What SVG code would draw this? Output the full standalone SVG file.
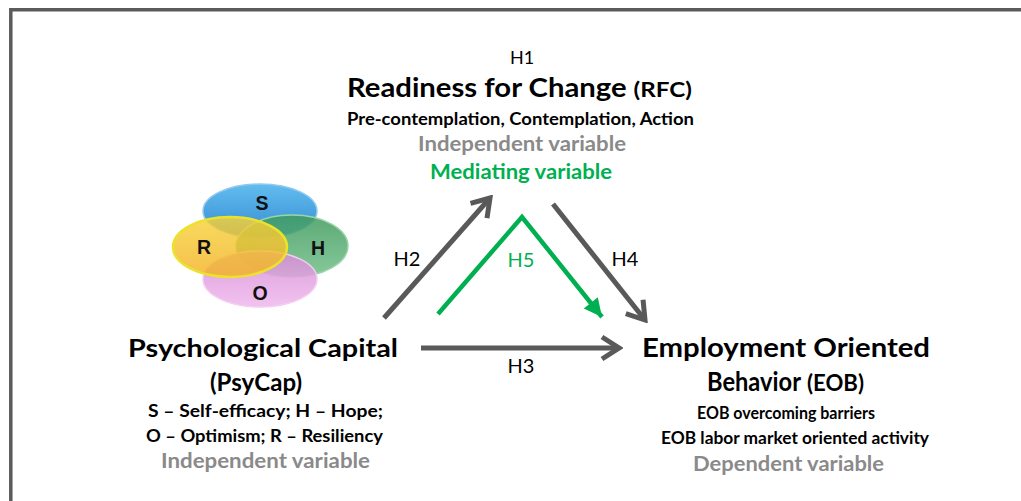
<svg xmlns="http://www.w3.org/2000/svg" width="1021" height="501" viewBox="0 0 1021 501">
  <style>
    text { font-family: Lato, "Open Sans", "Liberation Sans", sans-serif; fill: #000; }
    .h { font-size: 20px; text-anchor: middle; }
    .title { font-weight: 700; }
    .sub { font-weight: 700; font-size: 16.5px; }
    .grey { fill: #8a8a8a; font-weight: 700; font-size: 20px; }
    .green { fill: #00b050; }
    .letter { font-family: "Liberation Sans", Arial, sans-serif; font-size: 19.5px; font-weight: 700; text-anchor: middle; fill: #111; }
    .conn { fill: none; stroke: #595959; stroke-width: 5; }
    .conn-green { fill: none; stroke: #00b050; stroke-width: 4.5; stroke-linejoin: miter; }
  </style>
  <defs>
    <marker id="open-arrow" markerUnits="userSpaceOnUse" viewBox="-22 -14 26 28" refX="0" refY="0" markerWidth="26" markerHeight="28" orient="auto">
      <path d="M-17,-11 L0,0 L-17,11" fill="none" stroke="#595959" stroke-width="5" stroke-linejoin="miter"/>
    </marker>
    <marker id="solid-arrow" markerUnits="userSpaceOnUse" viewBox="-20 -12 22 24" refX="0" refY="0" markerWidth="22" markerHeight="24" orient="auto">
      <path d="M-18,-9 L0,0 L-18,9 Z" fill="#00b050"/>
    </marker>
    <linearGradient id="g-blue" x1="0" y1="0" x2="0" y2="1">
      <stop offset="0" stop-color="#56b6ee"/>
      <stop offset="1" stop-color="#2183cc"/>
    </linearGradient>
    <linearGradient id="g-green" x1="0" y1="0" x2="0" y2="1">
      <stop offset="0" stop-color="#3f9a5e"/>
      <stop offset="1" stop-color="#72bf88"/>
    </linearGradient>
    <linearGradient id="g-pink" x1="0" y1="0" x2="0" y2="1">
      <stop offset="0" stop-color="#d68bd6"/>
      <stop offset="1" stop-color="#efb8ec"/>
    </linearGradient>
    <linearGradient id="g-yellow" x1="0" y1="0" x2="0" y2="1">
      <stop offset="0" stop-color="#f7d33a"/>
      <stop offset="1" stop-color="#f3b124"/>
    </linearGradient>
  </defs>

  <!-- frame -->
  <path d="M10.8,501 V9.7 H1021" fill="none" stroke="#5b5b5b" stroke-width="3.5"/>

  <!-- PsyCap component ellipses -->
  <g id="psycap-circles">
    <ellipse cx="260" cy="211" rx="57" ry="27" fill="url(#g-blue)" fill-opacity="0.92" stroke="#8fcaf0" stroke-width="1.5"/>
    <ellipse cx="292" cy="246" rx="56" ry="31" fill="url(#g-green)" fill-opacity="0.85" stroke="#9ad4a8" stroke-width="1.5"/>
    <ellipse cx="260" cy="279" rx="57" ry="28" fill="url(#g-pink)" fill-opacity="0.85" stroke="#f2cdf0" stroke-width="1.5"/>
    <ellipse cx="230" cy="247" rx="57" ry="30" fill="url(#g-yellow)" fill-opacity="0.82" stroke="#ece22c" stroke-width="2.5"/>
    <text class="letter" x="262" y="210">S</text>
    <text class="letter" x="204" y="254">R</text>
    <text class="letter" x="318" y="255">H</text>
    <text class="letter" x="260" y="300">O</text>
  </g>

  <!-- connectors -->
  <g id="connectors">
    <line class="conn" x1="384" y1="318" x2="490" y2="198" marker-end="url(#open-arrow)"/>
    <line class="conn" x1="553" y1="204" x2="645" y2="320" marker-end="url(#open-arrow)"/>
    <line class="conn" x1="421" y1="348" x2="619" y2="348" marker-end="url(#open-arrow)"/>
    <polyline class="conn-green" points="438,314 522,217 602,317" marker-end="url(#solid-arrow)"/>
    <text class="h" x="407" y="266">H2</text>
    <text class="h green" x="521" y="267">H5</text>
    <text class="h" x="625" y="266">H4</text>
    <text class="h" x="521" y="373">H3</text>
  </g>

  <!-- mediator -->
  <g id="rfc">
    <text x="522" y="64" text-anchor="middle" font-size="18">H1</text>
    <text class="title" x="347" y="97" font-size="26" textLength="345" lengthAdjust="spacingAndGlyphs">Readiness for Change <tspan font-size="21.5">(RFC)</tspan></text>
    <text class="sub" x="347" y="125" font-size="16" textLength="347" lengthAdjust="spacingAndGlyphs">Pre-contemplation, Contemplation, Action</text>
    <text class="grey" x="418" y="151" textLength="208" lengthAdjust="spacingAndGlyphs">Independent variable</text>
    <text class="green" x="430" y="179" font-size="20.5" font-weight="700" textLength="182" lengthAdjust="spacingAndGlyphs">Mediating variable</text>
  </g>

  <!-- independent -->
  <g id="psycap">
    <text class="title" x="128" y="357" font-size="25.5" textLength="270" lengthAdjust="spacingAndGlyphs">Psychological Capital</text>
    <text class="title" x="210" y="391" font-size="24" textLength="92" lengthAdjust="spacingAndGlyphs">(PsyCap)</text>
    <text class="sub" x="148" y="417" textLength="235" lengthAdjust="spacingAndGlyphs">S – Self-efficacy;  H – Hope;</text>
    <text class="sub" x="146" y="442" textLength="237" lengthAdjust="spacingAndGlyphs">O – Optimism; R – Resiliency</text>
    <text class="grey" x="161" y="468" textLength="209" lengthAdjust="spacingAndGlyphs">Independent variable</text>
  </g>

  <!-- dependent -->
  <g id="eob">
    <text class="title" x="642" y="357" font-size="26" textLength="288" lengthAdjust="spacingAndGlyphs">Employment Oriented</text>
    <text class="title" x="707" y="391" font-size="26" textLength="94" lengthAdjust="spacingAndGlyphs">Behavior</text>
    <text class="title" x="807" y="391" font-size="22" textLength="57" lengthAdjust="spacingAndGlyphs">(EOB)</text>
    <text class="sub" x="697" y="419" textLength="178" lengthAdjust="spacingAndGlyphs">EOB overcoming barriers</text>
    <text class="sub" x="661" y="444" textLength="268" lengthAdjust="spacingAndGlyphs">EOB labor market oriented activity</text>
    <text class="grey" x="693" y="471" textLength="191" lengthAdjust="spacingAndGlyphs">Dependent variable</text>
  </g>
</svg>
